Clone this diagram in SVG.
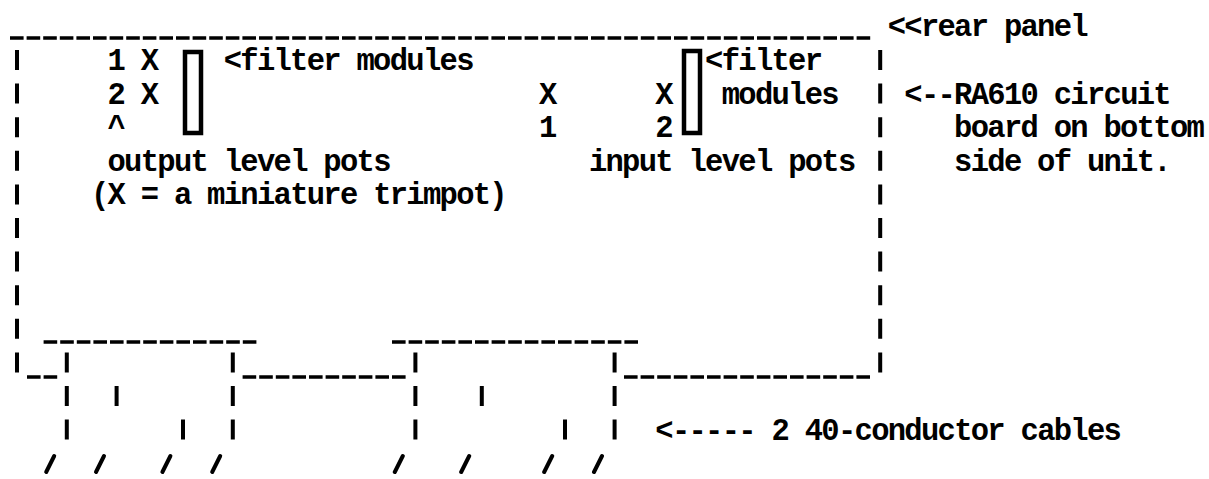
<svg xmlns="http://www.w3.org/2000/svg" width="1209" height="479" viewBox="0 0 1209 479">
<style>
.t{font-family:"Liberation Mono","Courier New",monospace;font-size:30.5px;letter-spacing:-1.7px;font-weight:bold;fill:#000}
.us{stroke:#000;stroke-width:3.5;stroke-dasharray:13.6 3;fill:none}
.vb{stroke:#000;stroke-width:4;stroke-dasharray:20 13.6;fill:none}
.bar{stroke:#000;stroke-width:4;fill:none}
.sl{stroke:#000;stroke-width:4;stroke-linecap:round;fill:none}
.box{stroke:#000;stroke-width:4.5;fill:none}
</style>
<rect width="1209" height="479" fill="#fff"/>
<g id="board">
  <line class="us" x1="10" y1="38" x2="871" y2="38"/>
  <line class="vb" x1="17" y1="50" x2="17" y2="373"/>
  <line class="vb" x1="880.2" y1="50" x2="880.2" y2="373"/>
  <line class="us" x1="27" y1="377" x2="58" y2="377"/>
  <line class="us" x1="242.6" y1="377" x2="407" y2="377"/>
  <line class="us" x1="624" y1="377" x2="871" y2="377"/>
</g>
<g id="rear-panel-label">
  <text class="t" x="887.7" y="36.4">&lt;&lt;rear panel</text>
</g>
<g id="filter-modules-left">
  <rect class="box" x="185" y="52" width="16" height="81"/>
  <text class="t" x="223.7" y="70">&lt;filter modules</text>
</g>
<g id="filter-modules-right">
  <rect class="box" x="684" y="51" width="16" height="82"/>
  <text class="t" x="705.1" y="70">&lt;filter</text>
  <text class="t" x="721.7" y="103.6">modules</text>
</g>
<g id="output-pots">
  <text class="t" x="107.5" y="70">1 X</text>
  <text class="t" x="107.5" y="103.6">2 X</text>
  <text class="t" x="107.5" y="137.2">^</text>
  <text class="t" x="107.5" y="170.8">output level pots</text>
  <text class="t" x="90.9" y="204.4">(X = a miniature trimpot)</text>
</g>
<g id="input-pots">
  <text class="t" x="539.1" y="103.6">X</text>
  <text class="t" x="655.3" y="103.6">X</text>
  <text class="t" x="539.1" y="137.2">1</text>
  <text class="t" x="655.3" y="137.2">2</text>
  <text class="t" x="588.9" y="170.8">input level pots</text>
</g>
<g id="board-label">
  <text class="t" x="904.3" y="103.6">&lt;--RA610 circuit</text>
  <text class="t" x="954.1" y="137.2">board on bottom</text>
  <text class="t" x="954.1" y="170.8">side of unit.</text>
</g>
<g id="connectors">
  <g id="cable-1">
    <line class="us" x1="43.6" y1="342" x2="257" y2="342"/>
    <path class="bar" d="M66.8 352.4v20M66.8 386v20M66.8 419.6v20M232.8 352.4v20M232.8 386v20M232.8 419.6v20M116.6 386v20M183 419.6v20"/>
    <path class="sl" d="M46.2 472l8 -16M96 472l8 -16M162.4 472l8 -16M212.2 472l8 -16"/>
  </g>
  <g id="cable-2">
    <line class="us" x1="392" y1="342" x2="638" y2="342"/>
    <path class="bar" d="M415.4 352.4v20M415.4 386v20M415.4 419.6v20M614.6 352.4v20M614.6 386v20M614.6 419.6v20M481.8 386v20M565 419.6v20"/>
    <path class="sl" d="M394.8 472l8 -16M461.2 472l8 -16M544.2 472l8 -16M594 472l8 -16"/>
  </g>
</g>
<g id="cables-label">
  <text class="t" x="655.3" y="439.6">&lt;----- 2 40-conductor cables</text>
</g>
</svg>
